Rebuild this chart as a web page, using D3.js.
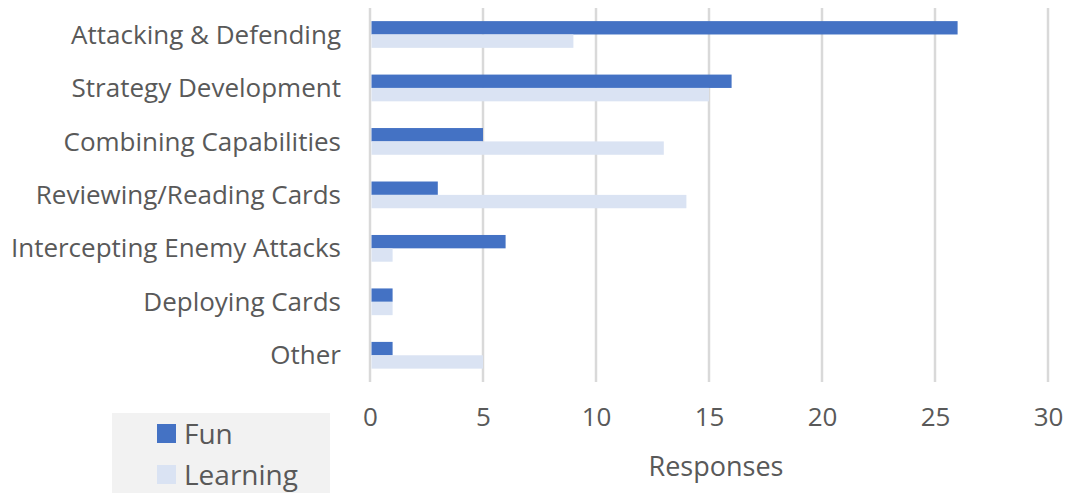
<!DOCTYPE html>
<html>
<head>
<meta charset="utf-8">
<script src="https://cdn.jsdelivr.net/npm/d3@7/dist/d3.min.js"></script>
<style>
  html, body { margin: 0; padding: 0; background: #fff; }
  svg { display: block; }
  svg text { font-family: "Open Sans", "Noto Sans", sans-serif; }
</style>
</head>
<body>
<svg id="chart" width="1067" height="493"></svg>
<script>
// Survey responses: which game activities were fun vs. good for learning
const categories = [
  "Attacking & Defending",
  "Strategy Development",
  "Combining Capabilities",
  "Reviewing/Reading Cards",
  "Intercepting Enemy Attacks",
  "Deploying Cards",
  "Other"
];
const funValues = [26, 16, 5, 3, 6, 1, 1];
const learningValues = [9, 15, 13, 14, 1, 1, 5];
const seriesNames = ["Fun", "Learning"];
const xTicks = [0, 5, 10, 15, 20, 25, 30];
const axisTitle = "Responses";

const colors = { Fun: "#4472C4", Learning: "#DAE3F3" };
const textColor = "#595959";
const fontFamily = '"Open Sans", "Noto Sans", sans-serif';

const svg = d3.select("#chart");

const x = d3.scaleLinear().domain([0, 30]).range([370, 1048]);
const y = d3.scaleBand().domain(categories).range([7.75, 382]).paddingInner(0.5).paddingOuter(0.25);
const sub = d3.scaleBand().domain(seriesNames).range([0, y.bandwidth()]);

// vertical gridlines
svg.append("g")
  .selectAll("line")
  .data(xTicks)
  .join("line")
  .attr("x1", d => x(d)).attr("x2", d => x(d))
  .attr("y1", 8).attr("y2", 382)
  .attr("stroke", "#D9D9D9")
  .attr("stroke-width", 2.5);

// bars
const rows = categories.map((c, i) => ({ c, Fun: funValues[i], Learning: learningValues[i] }));
const groups = svg.append("g")
  .selectAll("g")
  .data(rows)
  .join("g")
  .attr("transform", d => `translate(0,${y(d.c)})`);

groups.selectAll("rect")
  .data(d => seriesNames.map(s => ({ s, v: d[s] })))
  .join("rect")
  .attr("x", x(0) + 1.5)
  .attr("y", d => sub(d.s))
  .attr("width", d => Math.max(0, x(d.v) - x(0) - 1.5))
  .attr("height", sub.bandwidth())
  .attr("fill", d => colors[d.s]);

// category labels
const yAxis = d3.axisLeft(y).tickSize(0).tickPadding(0);
const yg = svg.append("g").attr("transform", "translate(341,0)").call(yAxis)
  .attr("font-family", fontFamily).attr("font-size", 26);
yg.select(".domain").remove();
yg.selectAll("text")
  .attr("fill", textColor)
  .attr("dy", "0.35em");

// x tick labels
const xAxis = d3.axisBottom(x).tickValues(xTicks).tickSize(0).tickPadding(0);
const xg = svg.append("g").attr("transform", "translate(0,408)").call(xAxis)
  .attr("font-family", fontFamily).attr("font-size", 26);
xg.select(".domain").remove();
xg.selectAll("text")
  .attr("fill", textColor);

// axis title
svg.append("text")
  .attr("x", 716).attr("y", 476)
  .attr("text-anchor", "middle")
  .attr("fill", textColor)
  .attr("font-size", 27)
  .text(axisTitle);

// legend
const legend = svg.append("g");
legend.append("rect")
  .attr("x", 112).attr("y", 413)
  .attr("width", 218).attr("height", 80)
  .attr("fill", "#F2F2F2");
const items = legend.selectAll("g")
  .data(seriesNames)
  .join("g")
  .attr("transform", (d, i) => `translate(157,${424 + i * 41})`);
items.append("rect")
  .attr("width", 19).attr("height", 19)
  .attr("fill", d => colors[d]);
items.append("text")
  .attr("x", 27).attr("y", 20)
  .attr("fill", textColor)
  .attr("font-size", 28)
  .text(d => d);
</script>
</body>
</html>
